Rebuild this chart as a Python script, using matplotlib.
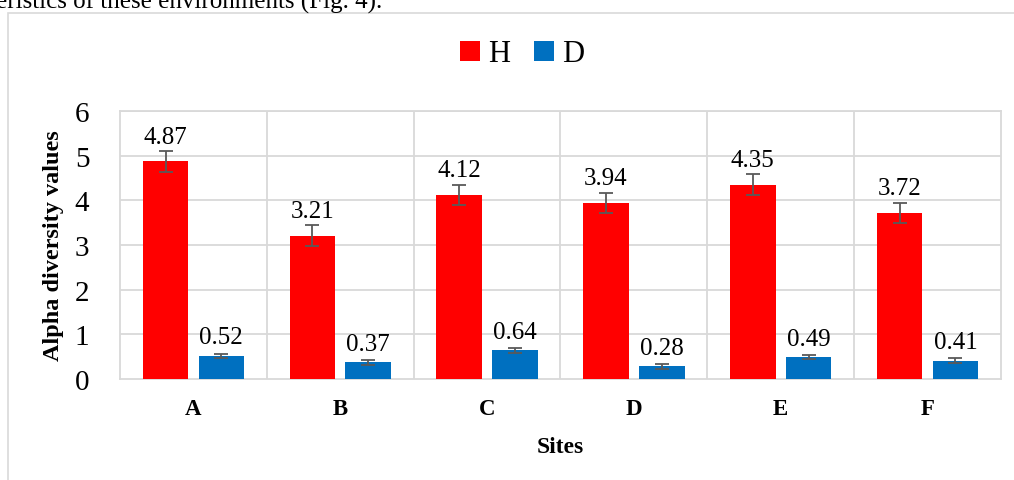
"""
Alpha diversity (H and D) per site, grouped bars with error bars
"""

import matplotlib.pyplot as plt
from matplotlib.patches import Rectangle
import numpy as np

sites = ["A", "B", "C", "D", "E", "F"]
h_values = [4.87, 3.21, 4.12, 3.94, 4.35, 3.72]
d_values = [0.52, 0.37, 0.64, 0.28, 0.49, 0.41]
h_err = [0.23, 0.23, 0.23, 0.23, 0.23, 0.23]
d_err = [0.05, 0.05, 0.05, 0.05, 0.05, 0.05]

plt.rcParams['font.family'] = ['Liberation Serif', 'DejaVu Serif']

fig = plt.figure(figsize=(10.14, 4.81), dpi=100)
fig.patch.set_facecolor('white')

# clipped sentence from the page above the chart
fig.text(-0.004, 1 - 9 / 481, "eristics of these environments (Fig. 4).",
         ha='left', va='baseline', fontsize=18, color='black')

# chart frame (left and top edges visible)
fig.patches.append(Rectangle((8 / 1014, -0.1), 1.2, 1 - 14 / 481 + 0.1,
                             transform=fig.transFigure, fill=False,
                             edgecolor='#d9d9d9', linewidth=1.2))

ax = fig.add_axes([120 / 1014, 1 - 380 / 481, 881 / 1014, 268 / 481])

x = np.arange(len(sites))
w = 0.31
off = 0.19
grid_c = '#d9d9d9'
err_kw = dict(ecolor='#595959', elinewidth=1.3, capsize=5, capthick=1.3)

ax.bar(x - off, h_values, w, yerr=h_err, color='#ff0000', label='H',
       error_kw=err_kw, zorder=3)
ax.bar(x + off, d_values, w, yerr=d_err, color='#0070c0', label='D',
       error_kw=err_kw, zorder=3)

for xi, v, e in zip(x, h_values, h_err):
    ax.text(xi - off, v + e + 0.08, f'{v:.2f}', ha='center', va='bottom',
            fontsize=18)
for xi, v, e in zip(x, d_values, d_err):
    ax.text(xi + off, v + e + 0.12, f'{v:.2f}', ha='center', va='bottom',
            fontsize=18)

ax.set_xlim(-0.5, len(sites) - 0.5)
ax.set_ylim(0, 6)
ax.set_yticks(range(0, 7))
ax.set_xticks(x)
ax.set_xticklabels(sites, fontsize=16.5, fontweight='bold')
ax.tick_params(axis='y', labelsize=21, length=0, pad=22)
ax.tick_params(axis='x', length=0, pad=14)

# grid: horizontal at every unit, vertical between sites
for yv in range(1, 7):
    ax.axhline(yv, color=grid_c, linewidth=1.3, zorder=1)
for xv in np.arange(0.5, len(sites) - 0.5, 1):
    ax.axvline(xv, color=grid_c, linewidth=1.3, zorder=1)
for s in ax.spines.values():
    s.set_color(grid_c)
    s.set_linewidth(1.3)

ax.set_ylabel('Alpha diversity values', fontsize=17.5, fontweight='bold',
              labelpad=8)
ax.set_xlabel('Sites', fontsize=17, fontweight='bold', labelpad=12)

fig.legend(loc='center', bbox_to_anchor=(522 / 1014, 1 - 55 / 481), ncol=2,
           frameon=False, fontsize=22, handlelength=0.65, handleheight=0.65,
           handletextpad=0.25, columnspacing=0.8)

plt.savefig('out.png', dpi=100, facecolor='white')
